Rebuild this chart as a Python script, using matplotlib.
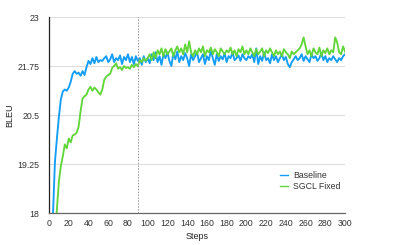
import numpy as np
import matplotlib
matplotlib.use('Agg')
import matplotlib.pyplot as plt

plt.rcParams['font.family'] = ['Liberation Sans', 'DejaVu Sans']

steps = np.arange(4, 301, 2)

baseline = [
    17.95, 19.3, 19.9, 20.45, 20.9, 21.1, 21.15, 21.12, 21.2, 21.35, 21.55, 21.62,
    21.55, 21.58, 21.5, 21.62, 21.52, 21.72, 21.88, 21.8, 21.95, 21.82, 21.98, 21.85,
    21.9, 21.88, 21.95, 22.0, 21.85, 21.92, 22.05, 21.85, 21.95, 21.9, 22.02, 21.8,
    21.98, 21.9, 22.05, 21.85, 21.98, 21.8, 22.0, 21.88, 21.95, 21.78, 22.0, 21.85,
    21.95, 21.82, 22.05, 21.9, 22.1, 21.85, 22.0, 21.78, 22.05, 21.95, 22.1, 21.88,
    21.75, 22.08, 21.92, 22.12, 21.85, 22.0, 21.9, 22.08, 21.95, 21.75, 22.05, 21.9, 22.0,
    22.1, 21.85, 21.95, 22.05, 21.8, 22.0, 21.9, 22.15, 21.95, 21.78, 22.05, 21.88,
    22.0, 21.92, 22.08, 21.85, 22.0, 21.95, 22.1, 21.9, 21.95, 22.02, 21.88, 22.05, 21.95,
    21.9, 22.0, 21.95, 22.05, 21.85, 22.2, 21.8, 22.0, 21.88, 22.1, 21.9, 21.95,
    21.82, 22.05, 21.9, 22.0, 21.85, 21.95, 22.05, 21.9, 21.98, 21.8, 21.72, 21.85, 21.92,
    22.0, 21.9, 21.95, 22.05, 21.88, 22.0, 21.92, 21.85, 22.05, 21.95, 22.0, 21.88, 21.95,
    22.08, 21.9, 22.0, 21.85, 21.95, 21.9, 22.0, 21.92, 21.85, 21.95, 21.9, 22.0, 22.05,
]

sgcl_fixed = [
    16.2, 17.2, 18.1, 18.8, 19.2, 19.45, 19.75, 19.65, 19.9, 19.8, 19.98, 20.0,
    20.05, 20.2, 20.6, 20.92, 20.98, 21.02, 21.15, 21.22, 21.12, 21.2, 21.15, 21.08,
    21.02, 21.15, 21.4, 21.48, 21.52, 21.55, 21.7, 21.75, 21.82, 21.68, 21.72, 21.65,
    21.75, 21.7, 21.72, 21.68, 21.78, 21.72, 21.8, 21.75, 21.9, 21.85, 21.95, 21.88,
    21.95, 22.05, 21.9, 22.1, 21.95, 22.15, 22.05, 22.2, 22.0, 22.18, 22.05, 22.12,
    22.2, 22.0, 22.15, 22.25, 22.1, 22.2, 22.05, 22.3, 22.1, 22.38, 22.1, 22.0, 22.15,
    22.05, 22.2, 22.1, 22.25, 22.0, 22.15, 22.1, 22.22, 22.05, 22.18, 22.1, 22.0,
    22.2, 22.12, 22.05, 22.15, 22.1, 22.22, 22.05, 22.15, 22.0, 22.18, 22.1, 22.25, 22.05,
    22.15, 22.05, 22.2, 22.1, 22.0, 22.18, 22.05, 22.12, 22.2, 22.0, 22.15, 22.08,
    22.2, 22.1, 22.0, 22.15, 22.05, 22.12, 22.0, 22.18, 22.1, 22.05, 21.95, 22.12, 22.05,
    22.1, 22.15, 22.2, 22.3, 22.48, 22.25, 22.05, 22.15, 22.0, 22.2, 22.1, 22.05, 22.22,
    22.0, 22.15, 22.08, 22.2, 22.05, 22.15, 22.1, 22.48, 22.35, 22.1, 22.05, 22.25, 22.12,
]

y_ticks = [18, 19.25, 20.5, 21.75, 23]
y_labels = ['18', '19.25', '20.5', '21.75', '23']
x_ticks = list(range(0, 301, 20))

fig = plt.figure(figsize=(3.93, 2.45), dpi=100)
ax = fig.add_axes([0.1247, 0.1306, 0.7533, 0.80])

ax.plot(steps, baseline, color='#129df7', lw=1.35, label='Baseline')
ax.plot(steps, sgcl_fixed, color='#62d53b', lw=1.35, label='SGCL Fixed')
ax.axvline(90, color='#999999', lw=0.7, ls=(0, (1.5, 1.5)))

ax.set_xlim(0, 300)
ax.set_ylim(18, 23)
ax.set_yticks(y_ticks)
ax.set_yticklabels(y_labels)
ax.set_xticks(x_ticks)
ax.grid(axis='y', color='#dddddd', lw=0.8)
ax.set_axisbelow(True)

for s in ['top', 'right']:
    ax.spines[s].set_visible(False)
ax.spines['left'].set_color('#222222')
ax.spines['left'].set_linewidth(0.9)
ax.spines['bottom'].set_color('#666666')
ax.spines['bottom'].set_linewidth(0.9)
ax.tick_params(axis='y', length=0, labelsize=6.3, colors='#333333', pad=7)
ax.tick_params(axis='x', length=0, labelsize=6.3, colors='#333333', pad=4)

ax.set_xlabel('Steps', fontsize=6.5, color='#222222', labelpad=3)
ax.set_ylabel('BLEU', fontsize=6.5, color='#222222', labelpad=2)

leg = ax.legend(loc='upper left', bbox_to_anchor=(0.78, 0.215), frameon=False, fontsize=6.3,
                handlelength=0.9, handletextpad=0.6, labelspacing=0.2, borderpad=0, borderaxespad=0)
for line in leg.get_lines():
    line.set_linewidth(1.0)
for t in leg.get_texts():
    t.set_color('#333333')

plt.savefig('out.png', dpi=100)
